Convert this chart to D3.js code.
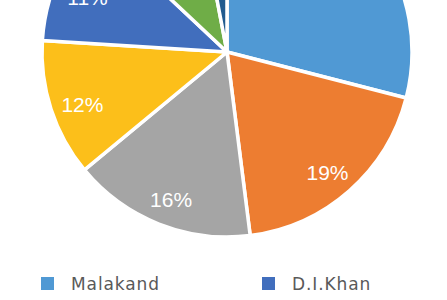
<!DOCTYPE html>
<html>
<head>
<meta charset="utf-8">
<script src="https://cdn.jsdelivr.net/npm/d3@7"></script>
<style>
  body { margin: 0; background: #fff; }
  svg { display: block; }
</style>
</head>
<body>
<svg id="chart"></svg>
<script>
// regions (legend is laid out column by column)
const regions = ["Malakand", "Peshawar", "Hazara", "Mardan", "D.I.Khan", "Kohat", "Bannu"];
const shares = [29, 19, 16, 12, 11, 10, 3];
const colors = ["#5099d4", "#ed7d31", "#a5a5a5", "#fcbf1a", "#416ebd", "#6fad47", "#215b8f"];

class PieChart {
    constructor(svg, width = 447, height = 300) {
        this.svg = svg;
        this.width = width;
        this.height = height;
        this.cx = 227;
        this.cy = 52;
        this.radius = 185;
    }

    initialize() {
        this.svg = d3.select(this.svg)
            .attr("width", this.width)
            .attr("height", this.height);
        this.container = this.svg.append("g")
            .attr("transform", `translate(${this.cx}, ${this.cy})`);
        this.labels = this.svg.append("g")
            .attr("transform", `translate(${this.cx}, ${this.cy})`);
        this.legend = this.svg.append("g");
    }

    update() {
        const data = regions.map((r, i) => ({ name: r, value: shares[i], color: colors[i] }));
        const pie = d3.pie().sort(null).value(d => d.value);
        const arc = d3.arc().innerRadius(0).outerRadius(this.radius);
        const labelArc = d3.arc().innerRadius(152).outerRadius(152);
        const arcs = pie(data);

        this.container.selectAll("path")
            .data(arcs)
            .join("path")
            .attr("d", arc)
            .attr("fill", d => d.data.color)
            .attr("stroke", "#fff")
            .attr("stroke-width", 3.5)
            .attr("stroke-linejoin", "round");

        this.labels.selectAll("text")
            .data(arcs)
            .join("text")
            .attr("transform", d => `translate(${labelArc.centroid(d)})`)
            .attr("dy", 6)
            .attr("text-anchor", "middle")
            .attr("dominant-baseline", "central")
            .attr("font-family", "Liberation Sans, Arial, sans-serif")
            .attr("font-size", 21)
            .attr("fill", "#fff")
            .text(d => d.data.value + "%");

        // legend: 4 rows per column
        const colX = d3.scaleOrdinal().domain([0, 1]).range([41, 262]);
        const rowY = d3.scaleLinear().domain([0, 1]).range([277, 307]);
        const items = this.legend.selectAll("g")
            .data(data)
            .join("g")
            .attr("transform", (d, i) => `translate(${colX(Math.floor(i / 4))}, ${rowY(i % 4)})`);
        items.append("rect")
            .attr("width", 13)
            .attr("height", 13)
            .attr("fill", d => d.color);
        items.append("text")
            .attr("x", 30)
            .attr("y", 13)
            .attr("font-family", "DejaVu Sans, sans-serif")
            .attr("font-size", 17)
            .attr("letter-spacing", 0.9)
            .attr("fill", "#595959")
            .text(d => d.name);
    }
}

const chart = new PieChart("#chart");
chart.initialize();
chart.update();
</script>
</body>
</html>
